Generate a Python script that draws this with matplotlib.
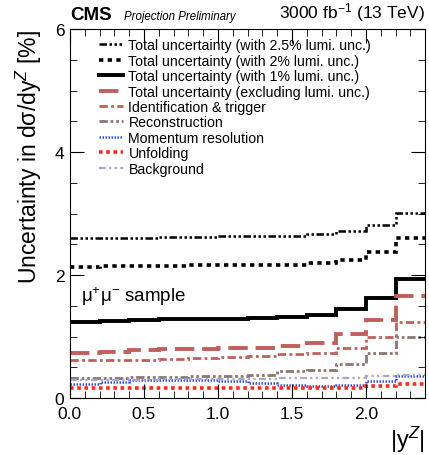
import matplotlib
matplotlib.use('Agg')
import matplotlib.pyplot as plt
import numpy as np

plt.rcParams['font.family'] = ['Liberation Sans', 'DejaVu Sans']
plt.rcParams['mathtext.fontset'] = 'custom'
plt.rcParams['mathtext.rm'] = 'Liberation Sans'
plt.rcParams['mathtext.it'] = 'Liberation Sans:italic'

# bin edges in |y^Z|
edges = [0.0, 0.2, 0.4, 0.6, 0.8, 1.0, 1.2, 1.4, 1.6, 1.8, 2.0, 2.2, 2.4]

# uncertainties in percent
tot_lumi25 = [2.60, 2.61, 2.61, 2.62, 2.62, 2.63, 2.63, 2.64, 2.66, 2.71, 2.81, 3.01]
tot_lumi2 = [2.13, 2.14, 2.15, 2.15, 2.16, 2.16, 2.16, 2.17, 2.19, 2.25, 2.38, 2.60]
tot_lumi1 = [1.24, 1.25, 1.27, 1.28, 1.28, 1.29, 1.30, 1.32, 1.35, 1.44, 1.62, 1.94]
tot_nolumi = [0.74, 0.75, 0.78, 0.79, 0.80, 0.81, 0.82, 0.85, 0.90, 1.04, 1.27, 1.66]
id_trig = [0.61, 0.61, 0.61, 0.64, 0.65, 0.66, 0.69, 0.71, 0.74, 0.81, 1.00, 1.24]
reco = [0.32, 0.33, 0.34, 0.34, 0.35, 0.35, 0.37, 0.44, 0.46, 0.55, 0.74, 1.00]
mom_res = [0.22, 0.26, 0.29, 0.29, 0.29, 0.28, 0.25, 0.21, 0.20, 0.21, 0.27, 0.36]
unfold = [0.16, 0.16, 0.16, 0.16, 0.16, 0.16, 0.16, 0.16, 0.16, 0.16, 0.19, 0.23]
bkg = [0.30, 0.30, 0.30, 0.31, 0.31, 0.31, 0.31, 0.32, 0.32, 0.33, 0.35, 0.38]

series = [
    (tot_lumi25, 'Total uncertainty (with 2.5% lumi. unc.)', 'black', (0, (3, 1, 1, 1, 1, 1, 1, 1)), 1.8),
    (tot_lumi2, 'Total uncertainty (with 2% lumi. unc.)', 'black', (0, (1.2, 1.2)), 2.6),
    (tot_lumi1, 'Total uncertainty (with 1% lumi. unc.)', 'black', '-', 2.8),
    (tot_nolumi, 'Total uncertainty (excluding lumi. unc.)', '#c0605c', (0, (5, 2)), 2.8),
    (id_trig, 'Identification & trigger', '#c0605c', (0, (3, 1.2, 1, 1.2)), 2.0),
    (reco, 'Reconstruction', '#8c7575', (0, (3, 1, 1, 1, 1, 1)), 2.0),
    (mom_res, 'Momentum resolution', '#3050e0', (0, (0.6, 0.6)), 1.8),
    (unfold, 'Unfolding', '#ff2a1a', (0, (1, 1)), 2.6),
    (bkg, 'Background', '#a8a8cc', (0, (3, 1.5, 1, 1.5, 1, 1.5)), 1.6),
]

fig = plt.figure(figsize=(4.29, 4.56), dpi=100)
ax = fig.add_axes([0.163, 0.125, 0.828, 0.809])

for vals, lab, col, ls, lw in series:
    ax.stairs(vals, edges, baseline=None, color=col, linestyle=ls, linewidth=lw, label=lab)

ax.set_xlim(0, 2.4)
ax.set_ylim(0, 6)
ax.set_xticks([0.0, 0.5, 1.0, 1.5, 2.0])
ax.set_xticklabels(['0.0', '0.5', '1.0', '1.5', '2.0'])
ax.set_xticks(np.arange(0, 2.41, 0.1), minor=True)
ax.set_yticks([0, 2, 4, 6])
ax.set_yticks(np.arange(0, 6.01, 0.5), minor=True)
ax.tick_params(which='both', direction='in', top=True, right=True, labelsize=12.5)
ax.tick_params(which='major', length=10, width=0.8)
ax.tick_params(which='minor', length=5, width=0.6)
ax.tick_params(axis='x', pad=6)
ax.tick_params(axis='y', pad=4)

ax.set_xlabel('|y$^{Z}$|', fontsize=17, loc='right', labelpad=2)
ax.set_ylabel('Uncertainty in dσ/dy$^{Z}$ [%]', fontsize=16.5, loc='top', labelpad=8)

ax.text(0.076, 1.66, 'μ$^{+}$μ$^{-}$ sample', fontsize=13.5, va='center')

fig.text(0.163, 0.948, 'CMS', fontsize=13.5, fontweight='bold', va='bottom')
fig.text(0.29, 0.950, 'Projection Preliminary', fontsize=8.3, style='italic', va='bottom')
fig.text(0.991, 0.948, '3000 fb$^{-1}$ (13 TeV)', fontsize=12.5, ha='right', va='bottom')

ax.legend(loc='upper left', bbox_to_anchor=(0.055, 1.0), frameon=False, fontsize=10.2,
          handlelength=1.7, handletextpad=0.4, labelspacing=0.1, borderaxespad=0.25)

fig.savefig('out.png', dpi=100)
